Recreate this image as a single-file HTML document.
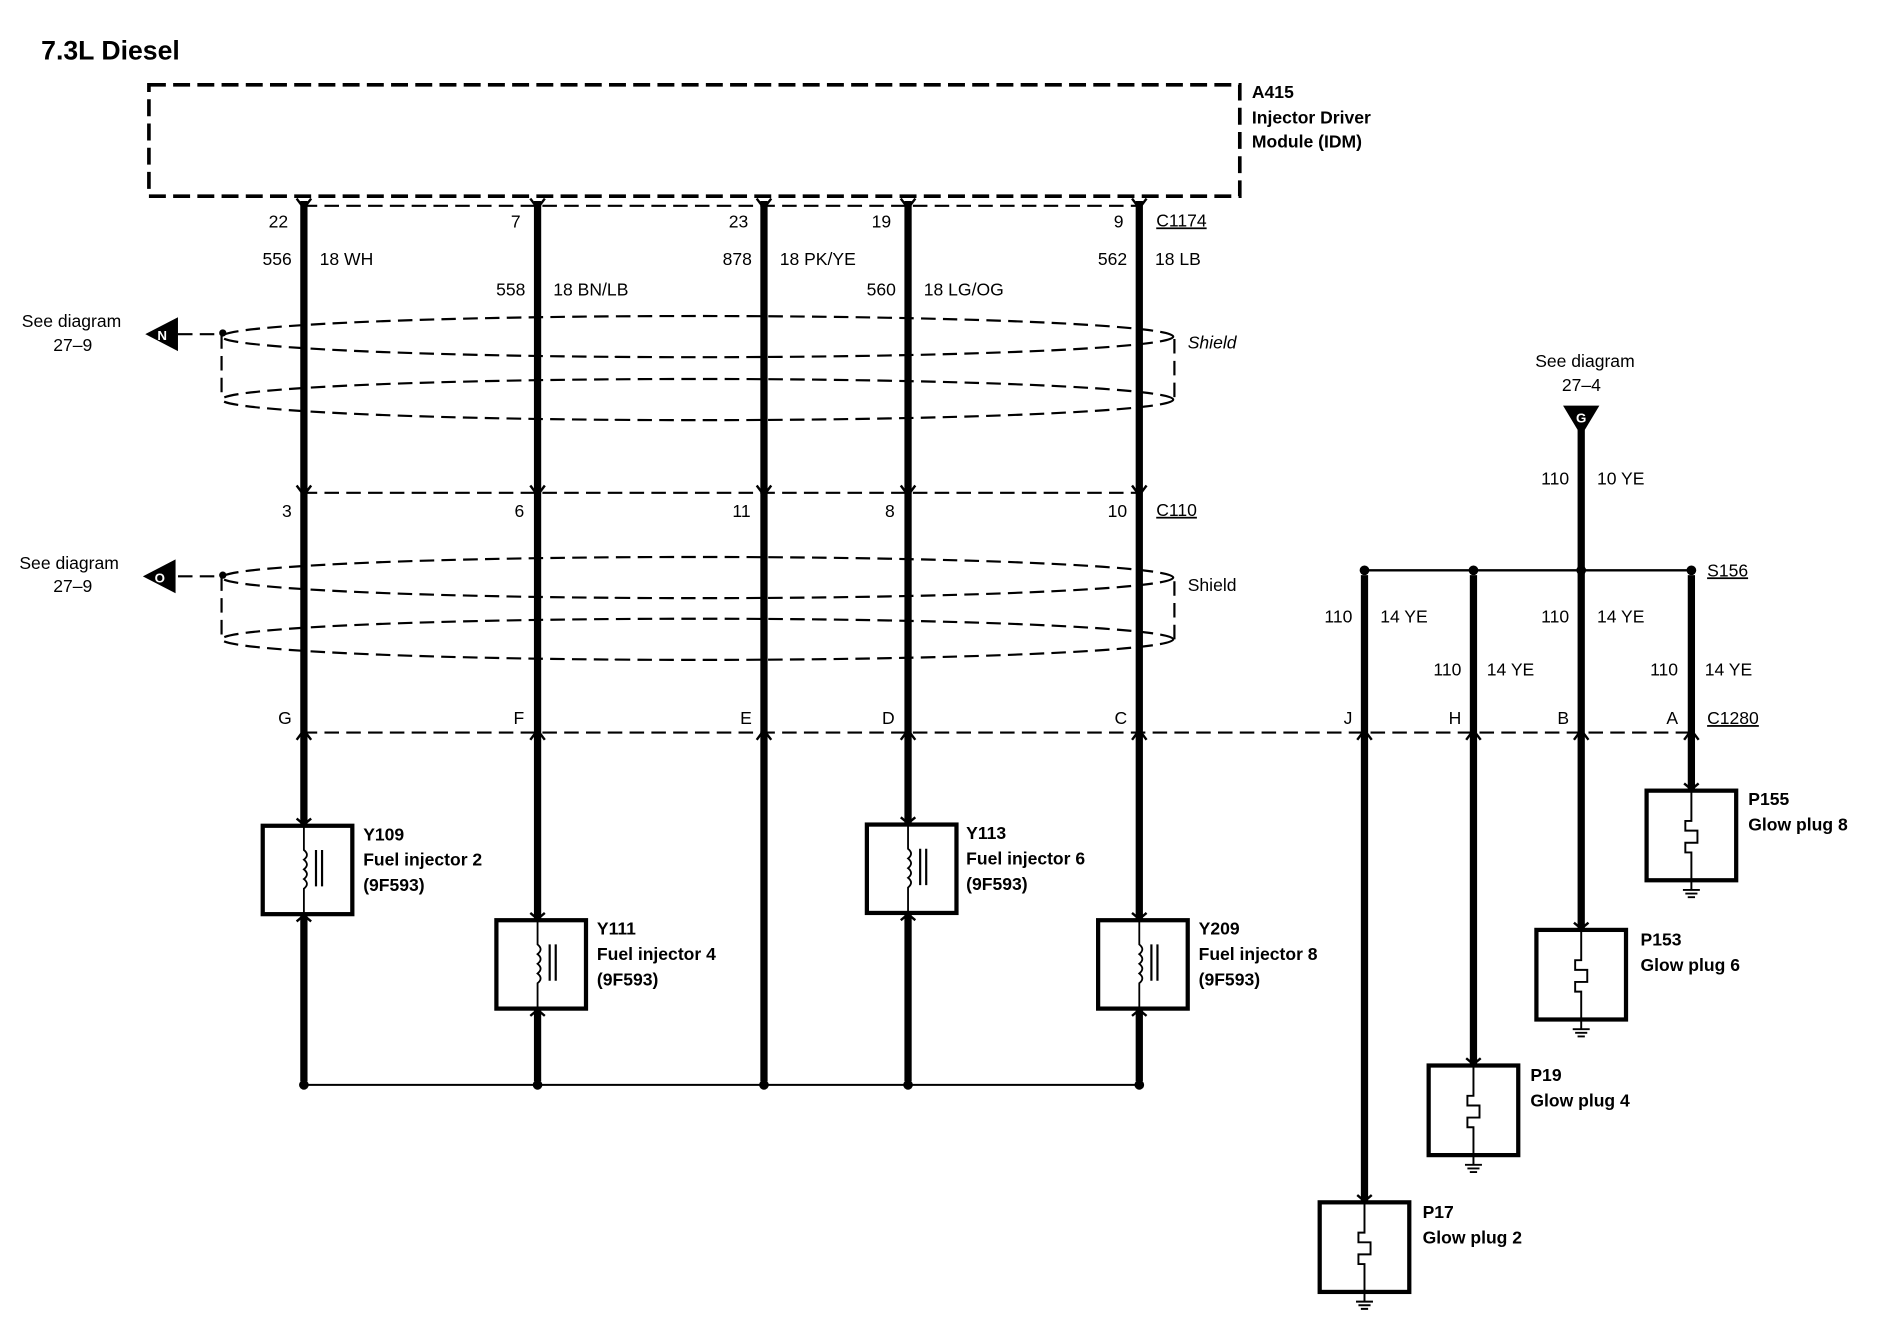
<!DOCTYPE html>
<html><head><meta charset="utf-8"><style>
html,body{margin:0;padding:0;background:#fff}
svg{display:block}
text{font-family:"Liberation Sans",sans-serif;fill:#000}
.n{font-size:14.5px}
.b{font-size:14.5px;font-weight:bold}
</style></head><body>
<svg width="1896" height="1344" viewBox="0 0 1566 1110" preserveAspectRatio="none" xmlns="http://www.w3.org/2000/svg">
<text x="34" y="49" style="font-size:22px;font-weight:bold">7.3L Diesel</text>
<rect x="123" y="70" width="901" height="92" fill="none" stroke="#000" stroke-width="3" stroke-dasharray="14,6"/>
<text class="b" x="1034" y="81">A415</text>
<text class="b" x="1034" y="102">Injector Driver</text>
<text class="b" x="1034" y="122">Module (IDM)</text>
<g stroke="#000" stroke-width="1.8" fill="none" stroke-dasharray="12,6">
<line x1="250" y1="170" x2="942" y2="170"/>
<line x1="250" y1="407" x2="942" y2="407"/>
<line x1="250" y1="605" x2="1400" y2="605"/>
<ellipse cx="576" cy="278" rx="393" ry="17"/>
<ellipse cx="576" cy="330" rx="393" ry="17"/>
<line x1="183" y1="276" x2="183" y2="330"/>
<line x1="970" y1="280" x2="970" y2="330"/>
<ellipse cx="576" cy="477" rx="393" ry="17"/>
<ellipse cx="576" cy="528" rx="393" ry="17"/>
<line x1="183" y1="476" x2="183" y2="528"/>
<line x1="970" y1="480" x2="970" y2="528"/>
<line x1="147" y1="276" x2="183" y2="276"/>
<line x1="147" y1="476" x2="183" y2="476"/>
</g>
<circle cx="184" cy="275" r="3"/>
<circle cx="184" cy="475" r="3"/>
<polygon points="120,276 147,262 147,290" fill="#000"/>
<text x="134" y="281" style="font-size:11px;font-weight:bold;fill:#fff" text-anchor="middle">N</text>
<text class="n" x="18" y="270">See diagram</text>
<text class="n" x="44" y="290">27–9</text>
<polygon points="118,476 145,462 145,490" fill="#000"/>
<text x="132" y="481" style="font-size:11px;font-weight:bold;fill:#fff" text-anchor="middle">O</text>
<text class="n" x="16" y="470">See diagram</text>
<text class="n" x="44" y="489">27–9</text>
<text x="981" y="288" style="font-size:14.5px;font-style:italic">Shield</text>
<text class="n" x="981" y="488">Shield</text>
<g stroke="#000" stroke-width="6">
<line x1="251" y1="166" x2="251" y2="682"/><line x1="251" y1="755" x2="251" y2="893"/>
<line x1="444" y1="166" x2="444" y2="760"/><line x1="444" y1="833" x2="444" y2="893"/>
<line x1="631" y1="166" x2="631" y2="893"/>
<line x1="750" y1="166" x2="750" y2="681"/><line x1="750" y1="754" x2="750" y2="893"/>
<line x1="941" y1="166" x2="941" y2="760"/><line x1="941" y1="833" x2="941" y2="893"/>
<line x1="1306" y1="355" x2="1306" y2="768"/>
<line x1="1127" y1="475" x2="1127" y2="993"/>
<line x1="1217" y1="475" x2="1217" y2="880"/>
<line x1="1397" y1="475" x2="1397" y2="653"/>
</g>
<g stroke="#000" stroke-width="2" fill="none">
<path d="M245,164 L251,172 L257,164 M438,164 L444,172 L450,164 M625,164 L631,172 L637,164 M744,164 L750,172 L756,164 M935,164 L941,172 L947,164"/>
<path d="M245,401 L251,409 L257,401 M438,401 L444,409 L450,401 M625,401 L631,409 L637,401 M744,401 L750,409 L756,401 M935,401 L941,409 L947,401"/>
<path d="M245,611 L251,603 L257,611 M438,611 L444,603 L450,611 M625,611 L631,603 L637,611 M744,611 L750,603 L756,611 M935,611 L941,603 L947,611 M1121,611 L1127,603 L1133,611 M1211,611 L1217,603 L1223,611 M1300,611 L1306,603 L1312,611 M1391,611 L1397,603 L1403,611"/>
</g>
<line x1="251" y1="896" x2="941" y2="896" stroke="#000" stroke-width="1.6"/>
<g fill="#000"><circle cx="251" cy="896" r="4"/><circle cx="444" cy="896" r="4"/><circle cx="631" cy="896" r="4"/><circle cx="750" cy="896" r="4"/><circle cx="941" cy="896" r="4"/></g>
<line x1="1127" y1="471" x2="1397" y2="471" stroke="#000" stroke-width="2"/>
<g fill="#000"><circle cx="1127" cy="471" r="4"/><circle cx="1217" cy="471" r="4"/><circle cx="1306" cy="471" r="4"/><circle cx="1397" cy="471" r="4"/></g>
<polygon points="1291,335 1321,335 1306,360" fill="#000"/>
<text x="1306" y="349" style="font-size:11px;font-weight:bold;fill:#fff" text-anchor="middle">G</text>
<text class="n" x="1268" y="303">See diagram</text>
<text class="n" x="1290" y="323">27–4</text>
<text class="n" x="238" y="188" text-anchor="end">22</text>
<text class="n" x="430" y="188" text-anchor="end">7</text>
<text class="n" x="618" y="188" text-anchor="end">23</text>
<text class="n" x="736" y="188" text-anchor="end">19</text>
<text class="n" x="928" y="188" text-anchor="end">9</text>
<text class="n" x="955" y="187" text-decoration="underline">C1174</text>
<text class="n" x="241" y="219" text-anchor="end">556</text><text class="n" x="264" y="219">18 WH</text>
<text class="n" x="434" y="244" text-anchor="end">558</text><text class="n" x="457" y="244">18 BN/LB</text>
<text class="n" x="621" y="219" text-anchor="end">878</text><text class="n" x="644" y="219">18 PK/YE</text>
<text class="n" x="740" y="244" text-anchor="end">560</text><text class="n" x="763" y="244">18 LG/OG</text>
<text class="n" x="931" y="219" text-anchor="end">562</text><text class="n" x="954" y="219">18 LB</text>
<text class="n" x="241" y="427" text-anchor="end">3</text>
<text class="n" x="433" y="427" text-anchor="end">6</text>
<text class="n" x="620" y="427" text-anchor="end">11</text>
<text class="n" x="739" y="427" text-anchor="end">8</text>
<text class="n" x="931" y="427" text-anchor="end">10</text>
<text class="n" x="955" y="426" text-decoration="underline">C110</text>
<text class="n" x="241" y="598" text-anchor="end">G</text>
<text class="n" x="433" y="598" text-anchor="end">F</text>
<text class="n" x="621" y="598" text-anchor="end">E</text>
<text class="n" x="739" y="598" text-anchor="end">D</text>
<text class="n" x="931" y="598" text-anchor="end">C</text>
<text class="n" x="1117" y="598" text-anchor="end">J</text>
<text class="n" x="1207" y="598" text-anchor="end">H</text>
<text class="n" x="1296" y="598" text-anchor="end">B</text>
<text class="n" x="1386" y="598" text-anchor="end">A</text>
<text class="n" x="1410" y="598" text-decoration="underline">C1280</text>
<text class="n" x="1410" y="476" text-decoration="underline">S156</text>
<text class="n" x="1296" y="400" text-anchor="end">110</text><text class="n" x="1319" y="400">10 YE</text>
<text class="n" x="1117" y="514" text-anchor="end">110</text><text class="n" x="1140" y="514">14 YE</text>
<text class="n" x="1296" y="514" text-anchor="end">110</text><text class="n" x="1319" y="514">14 YE</text>
<text class="n" x="1207" y="558" text-anchor="end">110</text><text class="n" x="1228" y="558">14 YE</text>
<text class="n" x="1386" y="558" text-anchor="end">110</text><text class="n" x="1408" y="558">14 YE</text>
<g fill="none" stroke="#000">
<g transform="translate(251,682)">
<rect x="-34" y="0" width="74" height="73" stroke-width="3.5" fill="#fff"/>
<path d="M-6,-6 L0,-1 L6,-6 M-6,79 L0,74 L6,79" stroke-width="2"/>
<path d="M0,0 V20 q5,4 0,8 q5,4 0,8 q5,4 0,8 q5,4 0,8 V73" stroke-width="1.5"/>
<path d="M10,20 V50 M15,20 V50" stroke-width="1.8"/>
</g>
<g transform="translate(444,760)">
<rect x="-34" y="0" width="74" height="73" stroke-width="3.5" fill="#fff"/>
<path d="M-6,-6 L0,-1 L6,-6 M-6,79 L0,74 L6,79" stroke-width="2"/>
<path d="M0,0 V20 q5,4 0,8 q5,4 0,8 q5,4 0,8 q5,4 0,8 V73" stroke-width="1.5"/>
<path d="M10,20 V50 M15,20 V50" stroke-width="1.8"/>
</g>
<g transform="translate(750,681)">
<rect x="-34" y="0" width="74" height="73" stroke-width="3.5" fill="#fff"/>
<path d="M-6,-6 L0,-1 L6,-6 M-6,79 L0,74 L6,79" stroke-width="2"/>
<path d="M0,0 V20 q5,4 0,8 q5,4 0,8 q5,4 0,8 q5,4 0,8 V73" stroke-width="1.5"/>
<path d="M10,20 V50 M15,20 V50" stroke-width="1.8"/>
</g>
<g transform="translate(941,760)">
<rect x="-34" y="0" width="74" height="73" stroke-width="3.5" fill="#fff"/>
<path d="M-6,-6 L0,-1 L6,-6 M-6,79 L0,74 L6,79" stroke-width="2"/>
<path d="M0,0 V20 q5,4 0,8 q5,4 0,8 q5,4 0,8 q5,4 0,8 V73" stroke-width="1.5"/>
<path d="M10,20 V50 M15,20 V50" stroke-width="1.8"/>
</g>
<g transform="translate(1397,653)">
<rect x="-37" y="0" width="74" height="74" stroke-width="3.5" fill="#fff"/>
<path d="M-6,-6 L0,-1 L6,-6" stroke-width="2"/>
<path d="M0,0 V25 H-5 V33 H5 V43 H-5 V51 H0 V82 M-7,82 H7 M-5,85 H5 M-3,88 H3" stroke-width="1.6"/>
</g>
<g transform="translate(1306,768)">
<rect x="-37" y="0" width="74" height="74" stroke-width="3.5" fill="#fff"/>
<path d="M-6,-6 L0,-1 L6,-6" stroke-width="2"/>
<path d="M0,0 V25 H-5 V33 H5 V43 H-5 V51 H0 V82 M-7,82 H7 M-5,85 H5 M-3,88 H3" stroke-width="1.6"/>
</g>
<g transform="translate(1217,880)">
<rect x="-37" y="0" width="74" height="74" stroke-width="3.5" fill="#fff"/>
<path d="M-6,-6 L0,-1 L6,-6" stroke-width="2"/>
<path d="M0,0 V25 H-5 V33 H5 V43 H-5 V51 H0 V82 M-7,82 H7 M-5,85 H5 M-3,88 H3" stroke-width="1.6"/>
</g>
<g transform="translate(1127,993)">
<rect x="-37" y="0" width="74" height="74" stroke-width="3.5" fill="#fff"/>
<path d="M-6,-6 L0,-1 L6,-6" stroke-width="2"/>
<path d="M0,0 V25 H-5 V33 H5 V43 H-5 V51 H0 V82 M-7,82 H7 M-5,85 H5 M-3,88 H3" stroke-width="1.6"/>
</g>
</g>
<text class="b" x="300" y="694">Y109</text><text class="b" x="300" y="715">Fuel injector 2</text><text class="b" x="300" y="736">(9F593)</text>
<text class="b" x="493" y="772">Y111</text><text class="b" x="493" y="793">Fuel injector 4</text><text class="b" x="493" y="814">(9F593)</text>
<text class="b" x="798" y="693">Y113</text><text class="b" x="798" y="714">Fuel injector 6</text><text class="b" x="798" y="735">(9F593)</text>
<text class="b" x="990" y="772">Y209</text><text class="b" x="990" y="793">Fuel injector 8</text><text class="b" x="990" y="814">(9F593)</text>
<text class="b" x="1444" y="665">P155</text><text class="b" x="1444" y="686">Glow plug 8</text>
<text class="b" x="1355" y="781">P153</text><text class="b" x="1355" y="802">Glow plug 6</text>
<text class="b" x="1264" y="893">P19</text><text class="b" x="1264" y="914">Glow plug 4</text>
<text class="b" x="1175" y="1006">P17</text><text class="b" x="1175" y="1027">Glow plug 2</text>
</svg>
</body></html>
